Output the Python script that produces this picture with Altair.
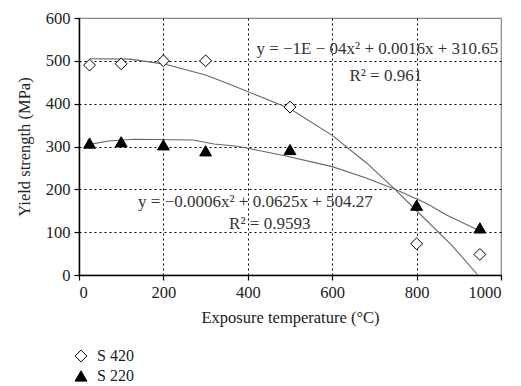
import altair as alt
import pandas as pd

# Measured points
temps = [25, 100, 200, 300, 500, 800, 950]
s420 = [490, 493, 500, 500, 392, 73, 48]
s220 = [308, 311, 304, 290, 293, 163, 110]

# Trend curves as drawn
c420_t = [25, 120, 200, 300, 360, 420, 500, 600, 682, 749, 800, 883, 945]
c420_v = [505, 504, 493, 467, 444, 420, 388, 326, 261, 200, 150, 70, 0]
c220_t = [25, 70, 130, 270, 320, 370, 400, 490, 600, 682, 749, 824, 871, 950]
c220_v = [305, 313, 317, 315, 306, 301, 296, 278, 253, 226, 200, 167, 140, 103]

series = ["S 420", "S 220"]

ann_text = ["y = −1E − 04x² + 0.0016x + 310.65", "R² = 0.961",
            "y = −0.0006x² + 0.0625x + 504.27", "R² = 0.9593"]
ann_x = [707, 727, 418, 452]
ann_y = [528, 465, 171, 120]

pts = pd.DataFrame({
    "T": temps + temps,
    "v": s420 + s220,
    "s": [series[0]] * len(temps) + [series[1]] * len(temps),
})
curves = pd.DataFrame({
    "T": c420_t + c220_t,
    "v": c420_v + c220_v,
    "s": [series[0]] * len(c420_t) + [series[1]] * len(c220_t),
})
ann = pd.DataFrame({"text": ann_text, "T": ann_x, "v": ann_y})

FONT = "Liberation Serif"
FS = 16.5

xs = alt.Scale(domain=[0, 1000], nice=False)
ys = alt.Scale(domain=[0, 600], nice=False)

common = dict(
    grid=True, gridColor="black", gridDash=[2, 3], gridWidth=1, format="d",
    domainColor="black", domainWidth=1.5, tickColor="black", tickSize=5, tickWidth=1.2,
    labelFont=FONT, labelFontSize=FS, labelColor="#222", labelPadding=4,
    titleFont=FONT, titleFontSize=FS, titleFontWeight="normal", titleColor="#222",
)
xaxis = alt.Axis(
    title="Exposure temperature (°C)", values=[0, 200, 400, 600, 800, 1000],
    gridOpacity=alt.condition("datum.value == 0 || datum.value == 1000", alt.value(0), alt.value(1)),
    titlePadding=9, **common,
)
yaxis = alt.Axis(
    title="Yield strength (MPa)", values=[0, 100, 200, 300, 400, 500, 600],
    gridOpacity=alt.condition("datum.value == 0 || datum.value == 600", alt.value(0), alt.value(1)),
    titlePadding=13, **common,
)

lines = alt.Chart(curves).mark_line(color="#666666", strokeWidth=1.1).encode(
    x=alt.X("T:Q", scale=xs, axis=xaxis),
    y=alt.Y("v:Q", scale=ys, axis=yaxis),
    detail="s:N",
)

legend = alt.Legend(
    title=None, orient="none", legendX=-6, legendY=330, padding=0,
    labelFont=FONT, labelFontSize=16, labelColor="#222", labelOffset=8,
    symbolSize=140, symbolStrokeWidth=1, rowPadding=4,
)

points = alt.Chart(pts).mark_point(filled=True, strokeWidth=1, opacity=1, size=140).encode(
    x=alt.X("T:Q", scale=xs),
    y=alt.Y("v:Q", scale=ys),
    shape=alt.Shape("s:N", scale=alt.Scale(domain=series, range=["diamond", "triangle-up"]), legend=legend),
    fill=alt.Fill("s:N", scale=alt.Scale(domain=series, range=["white", "black"]), legend=legend),
    stroke=alt.Stroke("s:N", scale=alt.Scale(domain=series, range=["black", "black"]), legend=legend),
)

texts = alt.Chart(ann).mark_text(font=FONT, fontSize=17, color="#333", align="center", baseline="middle").encode(
    x=alt.X("T:Q", scale=xs),
    y=alt.Y("v:Q", scale=ys),
    text="text:N",
)

chart = alt.layer(lines, points, texts).properties(
    width=422, height=257,
    autosize=alt.AutoSizeParams(type="none"),
    padding={"left": 71, "top": 10, "right": 12, "bottom": 111},
).configure_view(stroke="#888888", strokeWidth=1.2)

chart.save("out.html", embed_options={"renderer": "svg", "actions": False})
